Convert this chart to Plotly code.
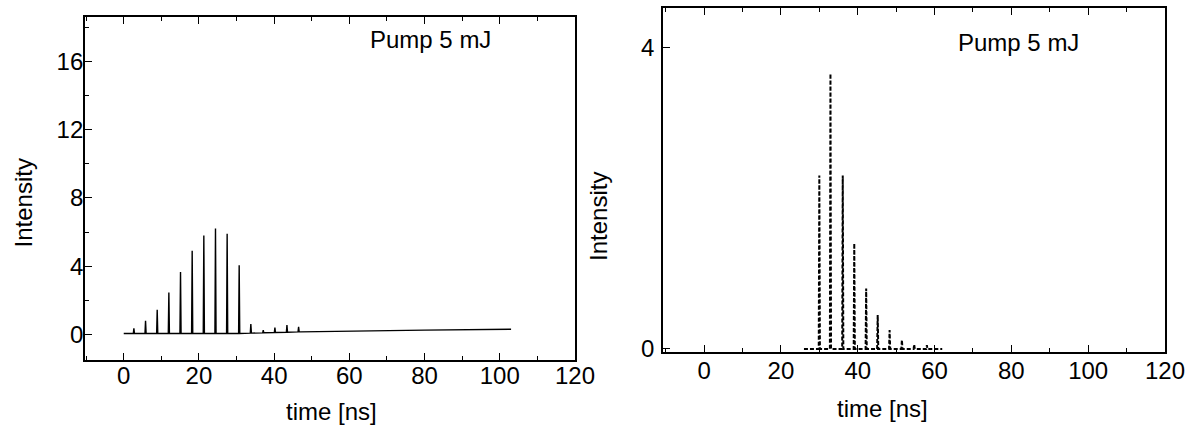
import numpy as np
import plotly.graph_objects as go

# ---- left panel: pulse train at the cavity output (solid trace) ----
left_pulse_t = [2.7, 5.8, 8.9, 12.0, 15.1, 18.2, 21.3, 24.4, 27.5, 30.7, 33.8, 37.1, 40.2, 43.4, 46.5]
left_pulse_h = [0.35, 0.8, 1.45, 2.45, 3.65, 4.9, 5.8, 6.2, 5.9, 4.05, 0.6, 0.25, 0.4, 0.55, 0.45]
left_base_t = [0, 30, 47, 60, 80, 103]
left_base_v = [0.05, 0.05, 0.15, 0.2, 0.25, 0.3]

# ---- right panel: pulse train after extraction (dashed trace) ----
right_pulse_t = [30.0, 32.9, 36.1, 39.1, 42.2, 45.2, 48.3, 51.5, 54.7, 58.0]
right_pulse_h = [2.3, 3.65, 2.3, 1.4, 0.8, 0.45, 0.25, 0.12, 0.06, 0.05]
right_base_t = [26, 62]
right_base_v = [0.0, 0.0]

x_ticks = [0, 20, 40, 60, 80, 100, 120]
left_y_ticks = [0, 4, 8, 12, 16]
right_y_ticks = [0, 4]
label_text = "Pump 5 mJ"

HALF_WIDTH = 0.15  # half base width of each drawn spike, ns


def pulse_trace(base_t, base_v, pulse_t, pulse_h):
    """Join the baseline with narrow triangular spikes at the pulse times."""
    xs = [base_t[0]]
    ys = [base_v[0]]
    for t, h in zip(pulse_t, pulse_h):
        b0 = float(np.interp(t - HALF_WIDTH, base_t, base_v))
        b1 = float(np.interp(t + HALF_WIDTH, base_t, base_v))
        xs += [t - HALF_WIDTH, t, t + HALF_WIDTH]
        ys += [b0, h, b1]
    for t, v in zip(base_t, base_v):
        if t > xs[-1]:
            xs.append(t)
            ys.append(v)
    return xs, ys


lx, ly = pulse_trace(left_base_t, left_base_v, left_pulse_t, left_pulse_h)
rx, ry = pulse_trace(right_base_t, right_base_v, right_pulse_t, right_pulse_h)

W, H = 1189, 429
FONT = "Liberation Sans, Arial, Helvetica, sans-serif"

fig = go.Figure()
fig.add_trace(go.Scatter(x=lx, y=ly, mode="lines", xaxis="x", yaxis="y",
                         line=dict(color="black", width=1.4), showlegend=False))
fig.add_trace(go.Scatter(x=rx, y=ry, mode="lines", xaxis="x2", yaxis="y2",
                         line=dict(color="black", width=2, dash="4px,2px"),
                         showlegend=False))

common_axis = dict(
    showgrid=False, zeroline=False, showline=True, linecolor="black", linewidth=1.8,
    ticks="inside", tickcolor="black", tickwidth=1.4, ticklen=7,
    tickfont=dict(family=FONT, size=24, color="black"),
    automargin=False,
)
minor = dict(ticks="inside", ticklen=4, tickcolor="black", tickwidth=1.2, showgrid=False)


def px_x(p):
    return p / W


def px_y(p):
    return 1 - p / H


fig.update_layout(
    width=W, height=H,
    margin=dict(l=0, r=0, t=0, b=0),
    paper_bgcolor="white", plot_bgcolor="white",
    font=dict(family=FONT, size=24, color="black"),
    xaxis=dict(**common_axis, domain=[px_x(85), px_x(575)], range=[-10.3, 120],
               tickvals=x_ticks, mirror="allticks", anchor="y",
               minor=dict(**minor, dtick=10), ticklabelstandoff=-7),
    yaxis=dict(**common_axis, domain=[px_y(360), px_y(17)], range=[-1.5, 18.6],
               tickvals=left_y_ticks, mirror=True, anchor="x",
               minor=dict(**minor, dtick=2), ticklabelstandoff=-5),
    xaxis2=dict(**common_axis, domain=[px_x(663), px_x(1165)], range=[-10.7, 120],
                tickvals=x_ticks, mirror="allticks", anchor="y2",
                minor=dict(**minor, dtick=10), ticklabelstandoff=-4),
    yaxis2=dict(**common_axis, domain=[px_y(352), px_y(8)], range=[-0.04, 4.52],
                tickvals=right_y_ticks, mirror=True, anchor="x2", ticklabelstandoff=2),
)

title_font = dict(family=FONT, size=24, color="black")
annotations = [
    dict(text="Intensity", x=px_x(22.5), y=px_y(203), textangle=-90),
    dict(text="time [ns]", x=px_x(331.5), y=px_y(411.5)),
    dict(text="Intensity", x=px_x(598), y=px_y(216), textangle=-90),
    dict(text="time [ns]", x=px_x(882), y=px_y(408)),
]
for a in annotations:
    fig.add_annotation(xref="paper", yref="paper", showarrow=False,
                       xanchor="center", yanchor="middle", font=title_font, **a)

fig.add_annotation(text=label_text, xref="x", yref="y", x=65, y=17.3,
                   xanchor="left", yanchor="middle", showarrow=False, font=title_font)
fig.add_annotation(text=label_text, xref="x2", yref="y2", x=65.6, y=4.06,
                   xanchor="left", yanchor="middle", showarrow=False, font=title_font)

fig.write_html("out.html")
